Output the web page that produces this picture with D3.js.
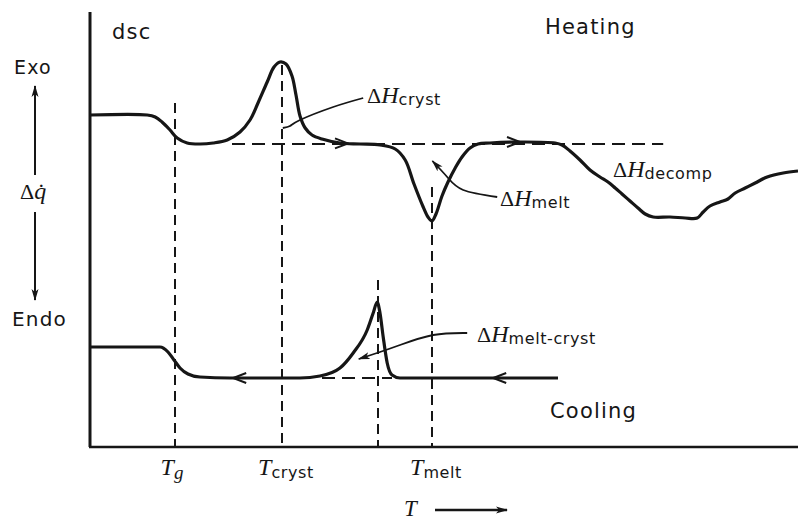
<!DOCTYPE html>
<html>
<head>
<meta charset="utf-8">
<script src="https://cdn.jsdelivr.net/npm/d3@7"></script>
<style>
body { margin: 0; background: #fff; }
svg text { fill: #161616; }
.sans { font-family: "DejaVu Sans", sans-serif; }
.serif { font-family: "Liberation Serif", serif; }
.ital { font-family: "Liberation Serif", serif; font-style: italic; }
</style>
</head>
<body>
<div id="chart"></div>
<script>
// heating trace (temperature, heat flow)
var heatT = [0,14.3,16.3,18,20,21.8,24.3,27.5,30.8,34.3,37.5,40,42,44.3,46,47.5,49,50.5,51.5,52.5,
  53.8,55.5,58,62.5,67.5,72.5,76.3,78.8,81,83.3,84.5,85.5,86.5,88,89.5,91.3,93,95,97,100,
  107.5,116.3,118,120,122.5,125,127.5,129.5,131.3,133,135,137,138.8,140.8,145,148.8,151.8,153.3,155,157.5,
  159.5,161.3,163.8,166.3,169.3,173.3,177];
var heatQ = [66.4,66.4,66,65,63.4,61.8,60.8,60.6,60.8,61.4,63,65.4,68.8,73,76,77,76.6,74.2,70.4,66.2,
  63.8,62.4,61.6,60.8,60.6,60.4,59.6,57.4,52.6,48,46,45.2,46.6,50.2,53,55.8,58,59.8,60.6,60.8,
  61,60.8,60.4,59.2,57.4,55.4,54,53,51.8,50.6,49.2,47.8,46.6,46,46,45.8,45.8,47,48.2,49,
  49.6,50.8,51.8,52.8,54,54.8,55.2];

// cooling trace
var coolT = [0,17.5,19.5,21,22.5,24.5,27.5,35,52.5,57.5,62.5,65.8,69.3,70.8,71.8,72.5,73.3,74.3,75.5,77.5,117];
var coolQ = [20,20,19,17.4,15.8,14.6,14,13.8,13.8,14.2,15.8,18.8,23.4,26.8,29,26.8,22,16.8,14.4,13.8,13.8];

// transition temperatures: Tg, Tcryst, Tmelt-cryst, Tmelt
var markT = [21.25, 48, 72, 85.5];
var markTop = [68.8, 76.4, 33.4, 52];
var markName = ["g", "cryst", "", "melt"];

// baselines [t0, t1, q]
var heatBase = [35.5, 143.3, 60.6];
var coolBase = [58, 75.5, 13.8];

// direction arrows on the traces
var heatArrowT = [64.5, 107.5];
var coolArrowT = [35.8, 100.8];

// leader lines of the annotations
var crystLeader = [[48.2, 63.8], [50, 64.2], [52.5, 65.4], [60.8, 68], [68.3, 69.8]];
var meltLeader = [[101.8, 50], [93.3, 51.4], [89.3, 54], [85.6, 57.2]];
var meltCrystLeader = [[94.3, 22.8], [85.8, 22.4], [77.5, 20.4], [72.5, 19], [67.2, 17.6]];

var width = 798, height = 523;

var svg = d3.select("#chart").append("svg")
    .attr("width", width)
    .attr("height", height);

var x = d3.scaleLinear().domain([0, 177]).range([90, 798]);
var y = d3.scaleLinear().domain([0, 87]).range([447, 12]);

var ink = "#161616";

svg.append("defs").append("marker")
    .attr("id", "head")
    .attr("viewBox", "0 0 12 8")
    .attr("refX", 11).attr("refY", 4)
    .attr("markerWidth", 12).attr("markerHeight", 8)
    .attr("markerUnits", "userSpaceOnUse")
    .attr("orient", "auto")
  .append("path")
    .attr("d", "M0,0.5 L12,4 L0,7.5 L3,4 Z")
    .attr("fill", ink);

// axes
svg.append("line")
    .attr("x1", x(0)).attr("x2", x(0))
    .attr("y1", y(87)).attr("y2", y(0))
    .attr("stroke", ink).attr("stroke-width", 3);
svg.append("line")
    .attr("x1", x(0) - 1).attr("x2", x(177))
    .attr("y1", y(0)).attr("y2", y(0))
    .attr("stroke", ink).attr("stroke-width", 2.5);

// dashed markers
svg.append("g").selectAll("line")
    .data(markT)
    .enter().append("line")
    .attr("x1", function(d) { return x(d); })
    .attr("x2", function(d) { return x(d); })
    .attr("y1", function(d, i) { return y(markTop[i]); })
    .attr("y2", y(0))
    .attr("stroke", ink)
    .attr("stroke-width", 2)
    .attr("stroke-dasharray", "10,6");

[heatBase, coolBase].forEach(function(b) {
  svg.append("line")
      .attr("x1", x(b[0])).attr("x2", x(b[1]))
      .attr("y1", y(b[2])).attr("y2", y(b[2]))
      .attr("stroke", ink)
      .attr("stroke-width", 2)
      .attr("stroke-dasharray", "13,7");
});

var line = d3.line()
    .x(function(d) { return x(d[0]); })
    .y(function(d) { return y(d[1]); })
    .curve(d3.curveMonotoneX);

var smooth = d3.line()
    .x(function(d) { return x(d[0]); })
    .y(function(d) { return y(d[1]); })
    .curve(d3.curveCatmullRom.alpha(0.5));

var heat = d3.zip(heatT, heatQ);
var cool = d3.zip(coolT, coolQ);

svg.append("path").datum(heat)
    .attr("d", smooth)
    .attr("fill", "none").attr("stroke", ink)
    .attr("stroke-width", 3.2).attr("stroke-linejoin", "round");

svg.append("path").datum(cool)
    .attr("d", line)
    .attr("fill", "none").attr("stroke", ink)
    .attr("stroke-width", 3.2).attr("stroke-linejoin", "round");

function qAt(ts, qs, t) {
  var i = d3.bisectLeft(ts, t);
  if (i <= 0) return qs[0];
  var f = (t - ts[i - 1]) / (ts[i] - ts[i - 1]);
  return qs[i - 1] + f * (qs[i] - qs[i - 1]);
}

function chevron(t, q, dir) {
  var px = x(t), py = y(q);
  svg.append("path")
      .attr("d", "M" + (px - dir * 13) + "," + (py - 5) + " L" + px + "," + py +
                 " L" + (px - dir * 13) + "," + (py + 5))
      .attr("fill", "none").attr("stroke", ink)
      .attr("stroke-width", 2).attr("stroke-linejoin", "miter");
}
heatArrowT.forEach(function(t) { chevron(t, qAt(heatT, heatQ, t), 1); });
coolArrowT.forEach(function(t) { chevron(t, qAt(coolT, coolQ, t), -1); });

// leaders
var leader = d3.line()
    .x(function(d) { return x(d[0]); })
    .y(function(d) { return y(d[1]); })
    .curve(d3.curveNatural);

svg.append("path").datum(crystLeader)
    .attr("d", leader)
    .attr("fill", "none").attr("stroke", ink).attr("stroke-width", 1.8);
svg.append("path").datum(meltLeader)
    .attr("d", leader)
    .attr("fill", "none").attr("stroke", ink).attr("stroke-width", 1.8)
    .attr("marker-end", "url(#head)");
svg.append("path").datum(meltCrystLeader)
    .attr("d", leader)
    .attr("fill", "none").attr("stroke", ink).attr("stroke-width", 1.8)
    .attr("marker-end", "url(#head)");

// delta H labels
function deltaH(px, py, sub) {
  var t = svg.append("text").attr("x", px).attr("y", py);
  t.append("tspan").attr("class", "serif").attr("font-size", 22).text("Δ");
  t.append("tspan").attr("class", "ital").attr("font-size", 24).text("H");
  t.append("tspan").attr("class", "sans").attr("font-size", 16)
      .attr("dy", 2).attr("letter-spacing", 0.6).text(sub);
}
deltaH(367, 103, "cryst");
deltaH(500, 206, "melt");
deltaH(613, 177, "decomp");
deltaH(477, 342, "melt-cryst");

// plain labels
function label(px, py, s, size) {
  svg.append("text")
      .attr("class", "sans")
      .attr("x", px).attr("y", py)
      .attr("font-size", size)
      .attr("letter-spacing", 1.2)
      .text(s);
}
label(545, 34, "Heating", 21);
label(550, 418, "Cooling", 21);
label(112, 39, "dsc", 21);
label(14, 74, "Exo", 19);
label(12, 326, "Endo", 20);

// delta q dot
var dq = svg.append("text").attr("x", 20).attr("y", 199);
dq.append("tspan").attr("class", "serif").attr("font-size", 22).text("Δ");
dq.append("tspan").attr("class", "ital").attr("font-size", 24).text("q\u0307");

// exo / endo arrows
svg.append("line")
    .attr("x1", 35).attr("x2", 35).attr("y1", 175).attr("y2", 86)
    .attr("stroke", ink).attr("stroke-width", 2).attr("marker-end", "url(#head)");
svg.append("line")
    .attr("x1", 35).attr("x2", 35).attr("y1", 212).attr("y2", 300)
    .attr("stroke", ink).attr("stroke-width", 2).attr("marker-end", "url(#head)");

// temperature labels under the axis
markT.forEach(function(t, i) {
  if (!markName[i]) return;
  var tx = svg.append("text")
      .attr("x", x(t) + (i === 0 ? -3 : 4))
      .attr("y", 475)
      .attr("text-anchor", "middle");
  tx.append("tspan").attr("class", "ital").attr("font-size", 24).text("T");
  if (i === 0) {
    tx.append("tspan").attr("class", "ital").attr("font-size", 19).attr("dy", 4).text("g");
  } else {
    tx.append("tspan").attr("class", "sans").attr("font-size", 16)
        .attr("dy", 3).attr("letter-spacing", 0.6).text(markName[i]);
  }
});

// T arrow
svg.append("text")
    .attr("class", "ital")
    .attr("x", 404).attr("y", 516)
    .attr("font-size", 23)
    .text("T");
svg.append("line")
    .attr("x1", 435).attr("x2", 507).attr("y1", 510).attr("y2", 510)
    .attr("stroke", ink).attr("stroke-width", 2.5).attr("marker-end", "url(#head)");
</script>
</body>
</html>
